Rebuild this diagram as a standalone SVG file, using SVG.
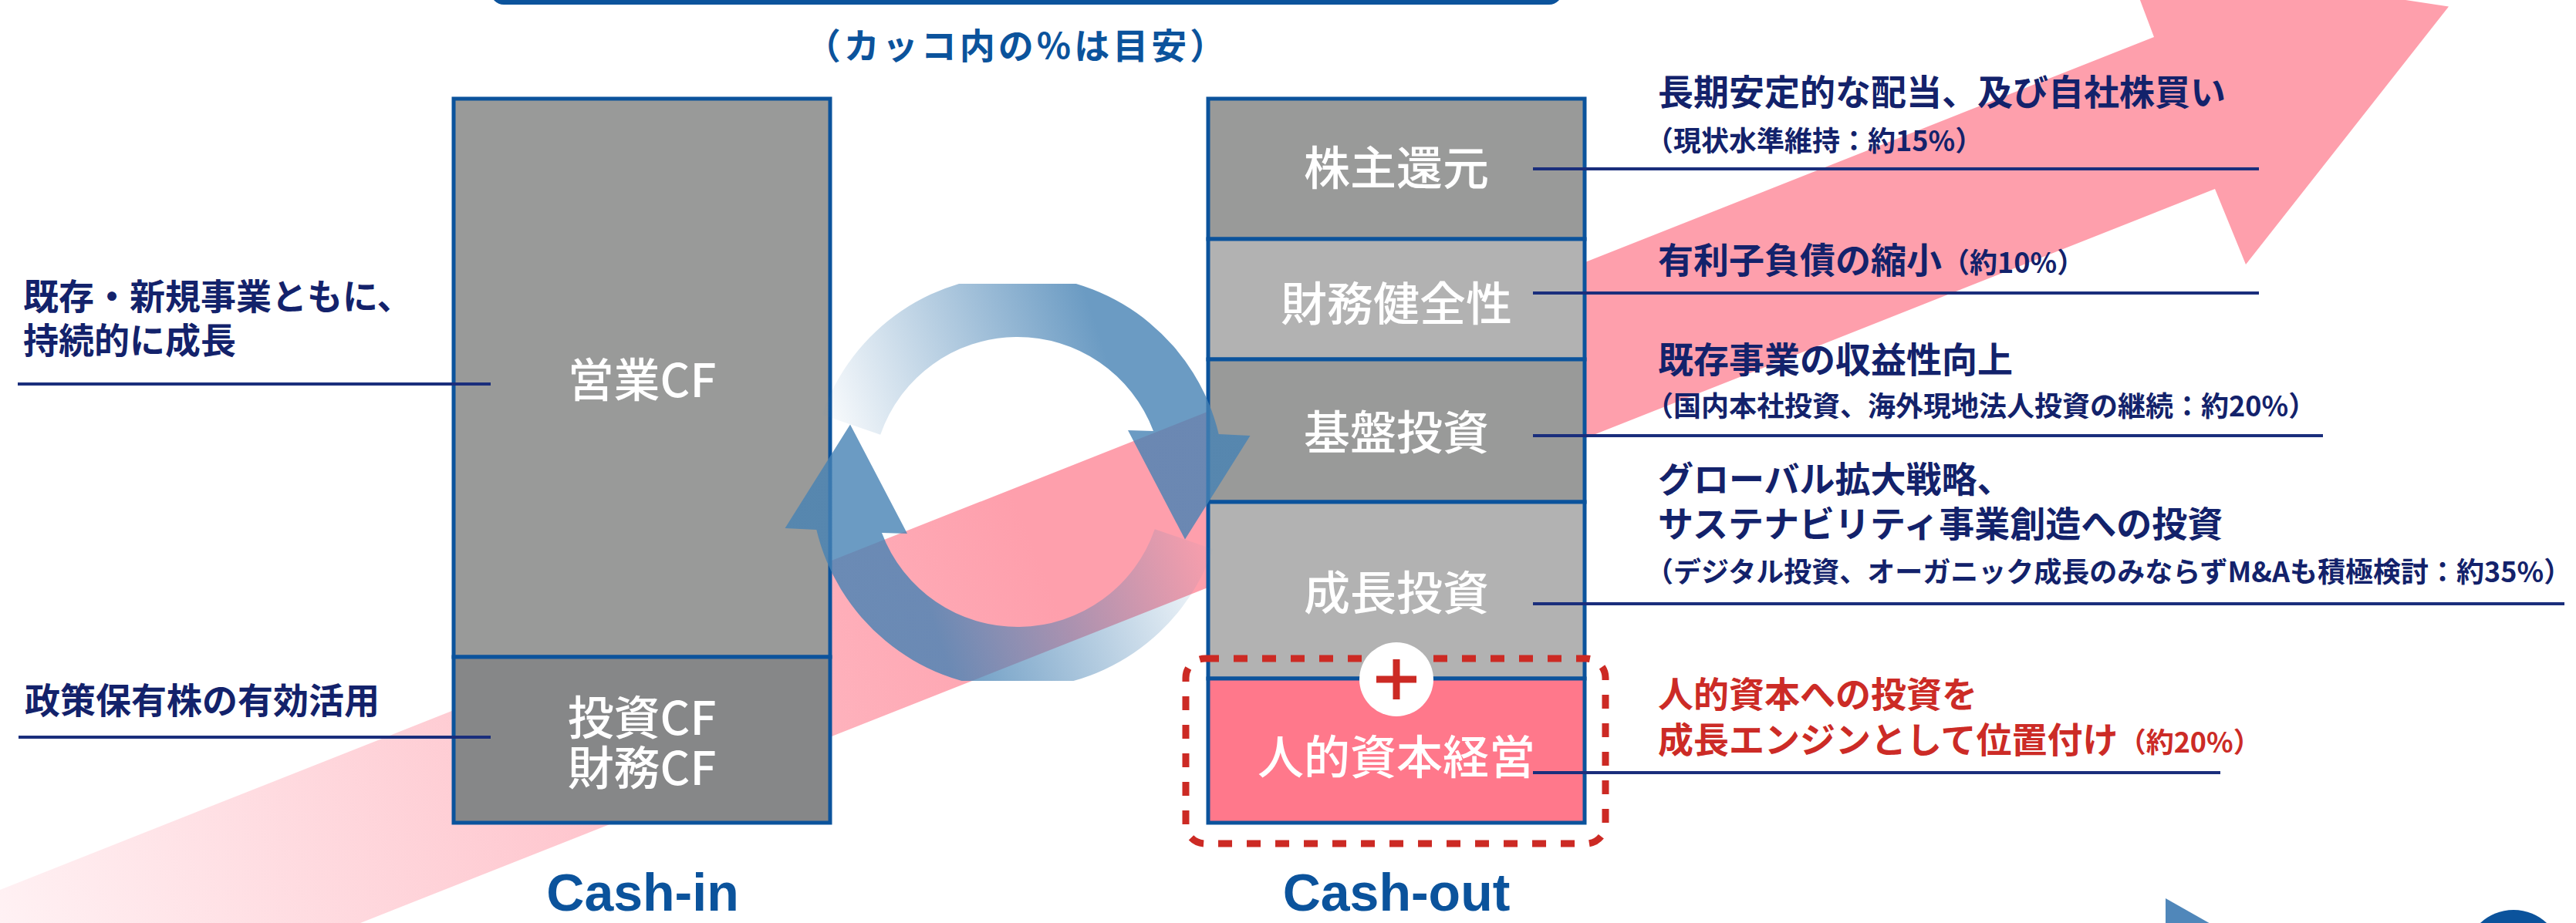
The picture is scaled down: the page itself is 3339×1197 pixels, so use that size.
<svg xmlns="http://www.w3.org/2000/svg" width="3339" height="1197" viewBox="0 0 3339 1197">
<defs>
<style>
.jp{font-family:"Noto Sans CJK JP","Noto Sans CJK SC",sans-serif}
.nv{fill:#13226b;font-weight:700;font-size:46px}
.sm{font-size:36px}
.rd{fill:#cc2b26;font-weight:700;font-size:46px}
.wt{fill:#ffffff;font-weight:500;font-size:60px;text-anchor:middle}
.bx{stroke:#0b539c;stroke-width:5}
.ln{stroke:#1a2e7c;stroke-width:4;fill:none}
.cash{font-family:"Liberation Sans",Arial,sans-serif;font-weight:700;font-size:68px;fill:#0b539c;text-anchor:middle}
</style>
<linearGradient id="pinkG" gradientUnits="userSpaceOnUse" x1="0" y1="1268" x2="1350" y2="733">
<stop offset="0" stop-color="#fff3f5"/>
<stop offset="1" stop-color="#fe9fac"/>
</linearGradient>
<linearGradient id="arcTop" gradientUnits="userSpaceOnUse" x1="1075" y1="600" x2="1440" y2="480">
<stop offset="0" stop-color="#4682b4" stop-opacity="0"/>
<stop offset="1" stop-color="#4682b4" stop-opacity="0.8"/>
</linearGradient>
<linearGradient id="arcBot" gradientUnits="userSpaceOnUse" x1="1563" y1="650" x2="1198" y2="770">
<stop offset="0" stop-color="#4682b4" stop-opacity="0"/>
<stop offset="1" stop-color="#4682b4" stop-opacity="0.8"/>
</linearGradient>
<clipPath id="cycClip"><rect x="900" y="368" width="800" height="515"/></clipPath>
</defs>

<rect x="0" y="0" width="3339" height="1197" fill="#ffffff"/>

<g id="growth-arrow">
<path d="M -20 1161.9 L 2792 48 L 2753 -55.5 L 3174 8.5 L 2911 343 L 2871 245 L -20 1389.9 Z" fill="url(#pinkG)"/>
</g>

<g id="top-banner">
<rect x="639" y="-100" width="1383" height="103" rx="14" fill="#ffffff" stroke="#0b539c" stroke-width="6"/>
</g>
<text id="note" class="jp" x="1318" y="76" font-size="46" font-weight="700" fill="#0b539c" text-anchor="middle" letter-spacing="4">（カッコ内の%は目安）</text>

<g id="cash-in">
<g id="node-eigyo-cf">
<rect class="bx" x="588" y="128" width="488" height="724" fill="#999a99"/>
<text class="jp wt" x="832" y="515">営業CF</text>
</g>
<g id="node-toshi-zaimu-cf">
<rect class="bx" x="588" y="852" width="488" height="215" fill="#868788"/>
<text class="jp wt" x="832" y="953">投資CF</text>
<text class="jp wt" x="832" y="1018">財務CF</text>
</g>
</g>

<g id="cash-out">
<g id="node-kabunushi">
<rect class="bx" x="1566" y="128" width="488" height="182" fill="#999a99"/>
<text class="jp wt" x="1810" y="240">株主還元</text>
</g>
<g id="node-zaimu">
<rect class="bx" x="1566" y="310" width="488" height="156" fill="#b2b2b2"/>
<text class="jp wt" x="1810" y="416">財務健全性</text>
</g>
<g id="node-kiban">
<rect class="bx" x="1566" y="466" width="488" height="185" fill="#999a99"/>
<text class="jp wt" x="1810" y="583">基盤投資</text>
</g>
<g id="node-seicho">
<rect class="bx" x="1566" y="651" width="488" height="229" fill="#b2b2b2"/>
<text class="jp wt" x="1810" y="791">成長投資</text>
</g>
<g id="node-jinteki">
<rect class="bx" x="1566" y="880" width="488" height="187" fill="#ff788b"/>
<text class="jp wt" x="1810" y="1004">人的資本経営</text>
</g>
</g>

<g id="cycle" clip-path="url(#cycClip)">
<path d="M 1065.6 537.7 A 268 268 0 0 1 1579.7 563 L 1620.5 565 L 1536 699.5 L 1462 558 L 1495 559 A 188 188 0 0 0 1141.2 563.8 Z" fill="url(#arcTop)"/>
<path d="M 1572.4 712.3 A 268 268 0 0 1 1058.3 687 L 1017.5 685 L 1102 550.5 L 1176 692 L 1143 691 A 188 188 0 0 0 1496.8 686.2 Z" fill="url(#arcBot)"/>
</g>

<g id="connectors">
<line class="ln" x1="23" y1="498" x2="636" y2="498"/>
<line class="ln" x1="24" y1="956" x2="636" y2="956"/>
<line class="ln" x1="1987" y1="219" x2="2928" y2="219"/>
<line class="ln" x1="1987" y1="380" x2="2928" y2="380"/>
<line class="ln" x1="1987" y1="565" x2="3011" y2="565"/>
<line class="ln" x1="1987" y1="783" x2="3324" y2="783"/>
<line class="ln" x1="1987" y1="1002" x2="2878" y2="1002"/>
</g>

<g id="human-capital-highlight">
<rect x="1537" y="854" width="544" height="240" rx="25" fill="none" stroke="#cc2a24" stroke-width="9" stroke-dasharray="18 19"/>
<circle cx="1810" cy="881" r="48" fill="#ffffff"/>
<path d="M 1784 881 H 1836 M 1810 855 V 907" stroke="#cc2a24" stroke-width="9" fill="none"/>
</g>

<g id="left-labels" class="jp">
<text class="nv" x="30" y="401" font-size="47">既存・新規事業ともに、</text>
<text class="nv" x="30" y="458" font-size="47">持続的に成長</text>
<text class="nv" x="32" y="925" font-size="47">政策保有株の有効活用</text>
</g>

<g id="right-labels" class="jp">
<text class="nv" x="2149" y="136">長期安定的な配当、及び自社株買い</text>
<text class="nv sm" x="2133" y="196">（現状水準維持：約15%）</text>
<text class="nv" x="2149" y="354">有利子負債の縮小<tspan class="sm">（約10%）</tspan></text>
<text class="nv" x="2149" y="483">既存事業の収益性向上</text>
<text class="nv sm" x="2133" y="540">（国内本社投資、海外現地法人投資の継続：約20%）</text>
<text class="nv" x="2149" y="638">グローバル拡大戦略、</text>
<text class="nv" x="2149" y="696">サステナビリティ事業創造への投資</text>
<text class="nv sm" x="2133" y="755">（デジタル投資、オーガニック成長のみならずM&amp;Aも積極検討：約35%）</text>
<text class="rd" x="2149" y="917">人的資本への投資を</text>
<text class="rd" x="2149" y="976">成長エンジンとして位置付け<tspan class="sm">（約20%）</tspan></text>
</g>

<text id="label-cash-in" class="cash" x="833" y="1181">Cash-in</text>
<text id="label-cash-out" class="cash" x="1810" y="1181">Cash-out</text>

<g id="corner-marks">
<path d="M 2807 1165 L 2890 1212 L 2807 1260 Z" fill="#5087ba"/>
<circle cx="3258" cy="1243" r="63" fill="#0b539c"/>
</g>
</svg>
